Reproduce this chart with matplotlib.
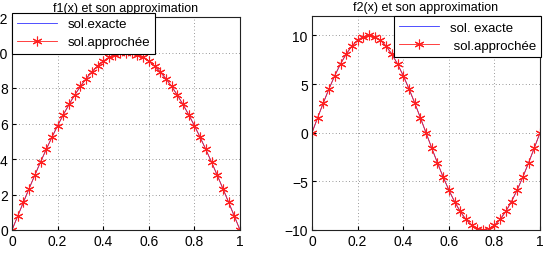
import matplotlib
matplotlib.use("Agg")
import matplotlib.pyplot as plt

plt.rcParams['font.family'] = ['Liberation Sans', 'DejaVu Sans']

# abscisses (pas de 0.025)
x = [0.0, 0.025, 0.05, 0.075, 0.1, 0.125, 0.15, 0.175, 0.2, 0.225,
     0.25, 0.275, 0.3, 0.325, 0.35, 0.375, 0.4, 0.425, 0.45, 0.475,
     0.5, 0.525, 0.55, 0.575, 0.6, 0.625, 0.65, 0.675, 0.7, 0.725,
     0.75, 0.775, 0.8, 0.825, 0.85, 0.875, 0.9, 0.925, 0.95, 0.975, 1.0]

# f1 : demi-arche de hauteur 10
y1 = [0.0, 0.785, 1.564, 2.334, 3.090, 3.827, 4.540, 5.225, 5.878, 6.494,
      7.071, 7.604, 8.090, 8.526, 8.910, 9.239, 9.511, 9.724, 9.877, 9.969,
      10.0, 9.969, 9.877, 9.724, 9.511, 9.239, 8.910, 8.526, 8.090, 7.604,
      7.071, 6.494, 5.878, 5.225, 4.540, 3.827, 3.090, 2.334, 1.564, 0.785, 0.0]

# f2 : une periode d'amplitude 10
y2 = [0.0, 1.564, 3.090, 4.540, 5.878, 7.071, 8.090, 8.910, 9.511, 9.877,
      10.0, 9.877, 9.511, 8.910, 8.090, 7.071, 5.878, 4.540, 3.090, 1.564,
      0.0, -1.564, -3.090, -4.540, -5.878, -7.071, -8.090, -8.910, -9.511, -9.877,
      -10.0, -9.877, -9.511, -8.910, -8.090, -7.071, -5.878, -4.540, -3.090, -1.564, 0.0]

titles = ["f1(x) et son approximation", "f2(x) et son approximation"]
labels_exact = ["sol.exacte", "sol. exacte"]
labels_approx = ["sol.approchée", " sol.approchée"]
xticks = [0, 0.2, 0.4, 0.6, 0.8, 1]
xticklabels = ["0", "0.2", "0.4", "0.6", "0.8", "1"]
yticks1 = [0, 2, 4, 6, 8, 10, 12]
yticks2 = [-10, -5, 0, 5, 10]

fig = plt.figure(figsize=(5.46, 2.55), dpi=100)
ax1 = fig.add_axes([12 / 546, 24 / 255, 228 / 546, 213 / 255])
ax2 = fig.add_axes([312 / 546, 24 / 255, 228 / 546, 214 / 255])

for ax, y, t, le, la in [(ax1, y1, titles[0], labels_exact[0], labels_approx[0]),
                         (ax2, y2, titles[1], labels_exact[1], labels_approx[1])]:
    ax.plot(x, y, color="#3333ff", lw=0.6, label=le)
    ax.plot(x, y, color="#ff2020", lw=0.6, marker=(6, 2, 0), ms=7, mew=0.8, label=la)
    ax.set_xlim(0, 1)
    ax.set_xticks(xticks)
    ax.set_xticklabels(xticklabels)
    ax.set_title(t, fontsize=9, pad=4)
    ax.grid(True, linestyle=(0, (1, 3)), color="#777777", lw=0.6)
    ax.tick_params(labelsize=10, direction="in", length=3, pad=3)
    for s in ax.spines.values():
        s.set_linewidth(0.8)
        s.set_color("#222222")

ax1.set_ylim(0, 12)
ax1.set_yticks(yticks1)
ax2.set_ylim(-10, 12)
ax2.set_yticks(yticks2)
ax2.set_yticklabels(["\u221210", "\u22125", "0", "5", "10"])

leg1 = ax1.legend(loc="upper left", bbox_to_anchor=(0, 1.02), fontsize=9.5,
                  fancybox=False, edgecolor="black", borderaxespad=0,
                  handlelength=3.0, framealpha=1, labelspacing=0.45)
leg2 = ax2.legend(loc="upper right", bbox_to_anchor=(1.005, 1.0), fontsize=9.5,
                  fancybox=False, edgecolor="black", borderaxespad=0,
                  handlelength=3.0, framealpha=1, labelspacing=0.45)
for leg in (leg1, leg2):
    leg.get_frame().set_linewidth(0.8)

fig.savefig("out.png", dpi=100)
